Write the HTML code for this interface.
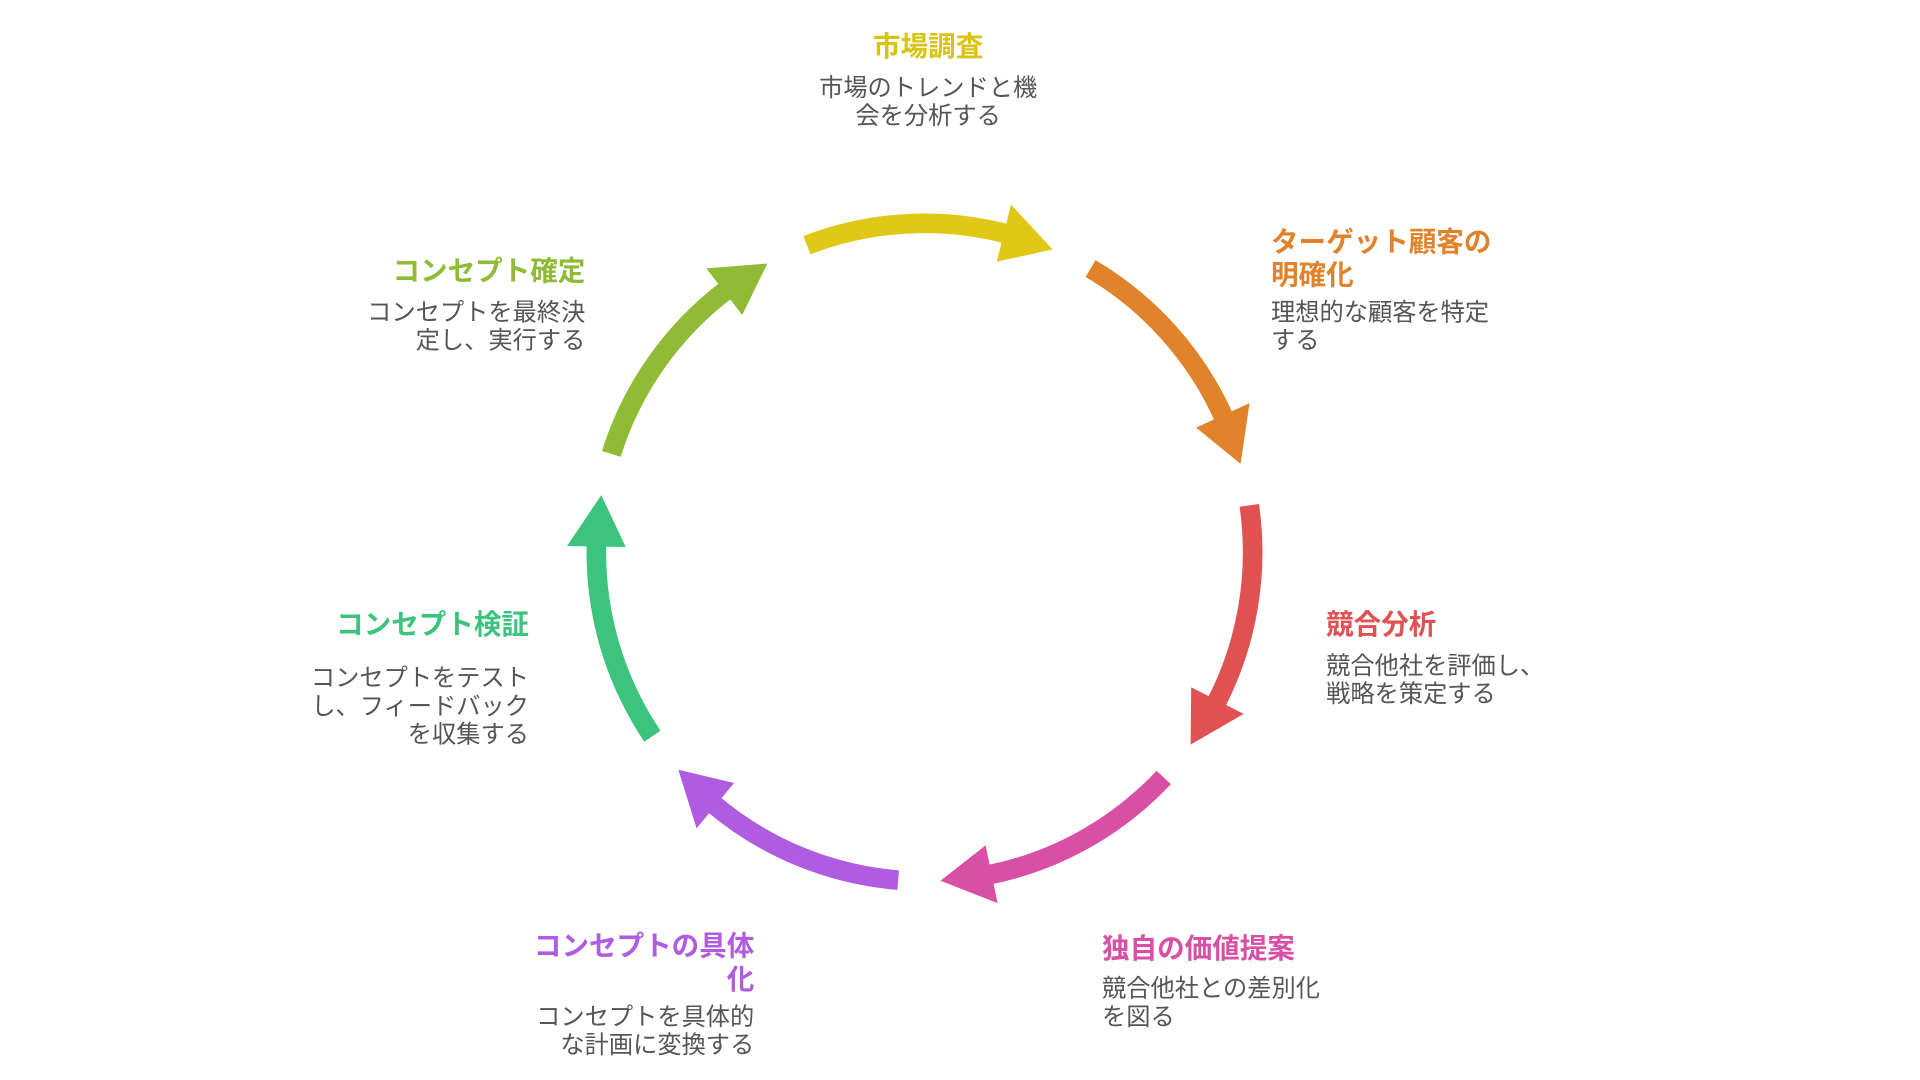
<!DOCTYPE html>
<html><head><meta charset="utf-8"><style>
html,body{margin:0;padding:0;background:#fff;width:1920px;height:1080px;overflow:hidden}
svg{display:block}
text{font-family:"Liberation Sans","Noto Sans CJK JP",sans-serif;dominant-baseline:central}
.t{font-size:22.5px;font-weight:bold}
.b{font-size:19.8px;fill:#555}
</style></head><body>
<svg id="s" width="1920" height="1080" viewBox="0 0 1568 880" preserveAspectRatio="none" xmlns="http://www.w3.org/2000/svg">
<g id="arcs"></g>
<text class="t" x="758" y="38" text-anchor="middle" fill="#d9c414">市場調査</text>
<text class="b" x="758" y="72" text-anchor="middle">市場のトレンドと機</text>
<text class="b" x="758" y="95" text-anchor="middle">会を分析する</text>

<text class="t" x="1038" y="197" fill="#e0832a">ターゲット顧客の</text>
<text class="t" x="1038" y="224" fill="#e0832a">明確化</text>
<text class="b" x="1038" y="255">理想的な顧客を特定</text>
<text class="b" x="1038" y="278">する</text>

<text class="t" x="1083" y="509" fill="#e05252">競合分析</text>
<text class="b" x="1083" y="543">競合他社を評価し、</text>
<text class="b" x="1083" y="566">戦略を策定する</text>

<text class="t" x="900" y="773" fill="#d94fa6">独自の価値提案</text>
<text class="b" x="900" y="806">競合他社との差別化</text>
<text class="b" x="900" y="829">を図る</text>

<text class="t" x="616" y="771" text-anchor="end" fill="#b05ce0">コンセプトの具体</text>
<text class="t" x="616" y="798" text-anchor="end" fill="#b05ce0">化</text>
<text class="b" x="616" y="829" text-anchor="end">コンセプトを具体的</text>
<text class="b" x="616" y="852" text-anchor="end">な計画に変換する</text>

<text class="t" x="432" y="509" text-anchor="end" fill="#3cc47e">コンセプト検証</text>
<text class="b" x="432" y="553" text-anchor="end">コンセプトをテスト</text>
<text class="b" x="432" y="576" text-anchor="end">し、フィードバック</text>
<text class="b" x="432" y="599" text-anchor="end">を収集する</text>

<text class="t" x="478" y="221" text-anchor="end" fill="#8fbb35">コンセプト確定</text>
<text class="b" x="478" y="255" text-anchor="end">コンセプトを最終決</text>
<text class="b" x="478" y="278" text-anchor="end">定し、実行する</text>
</svg>
<script>
(function(){
var cx=755,cy=450,r=268;
var cols=["#e0c916","#e0832a","#e05252","#d94fa6","#b05ce0","#3cc47e","#8fbb35"];
var g=document.getElementById("arcs"),h="";
function pt(a,rr){var t=a*Math.PI/180;return [cx+rr*Math.sin(t),cy-rr*Math.cos(t)];}
for(var i=0;i<7;i++){
 var s=-21+51.4*i,e=s+44,base=e-9;
 var p0=pt(s,r),p1=pt(base+0.5,r);
 h+='<path d="M'+p0[0]+' '+p0[1]+' A'+r+' '+r+' 0 0 1 '+p1[0]+' '+p1[1]+'" fill="none" stroke="'+cols[i]+'" stroke-width="16"/>';
 var tip=pt(e,r),bo=pt(base,r+24),bi=pt(base,r-24);
 h+='<polygon points="'+tip.join(",")+' '+bo.join(",")+' '+bi.join(",")+'" fill="'+cols[i]+'"/>';
}
g.innerHTML=h;
})();
</script>
</body></html>
